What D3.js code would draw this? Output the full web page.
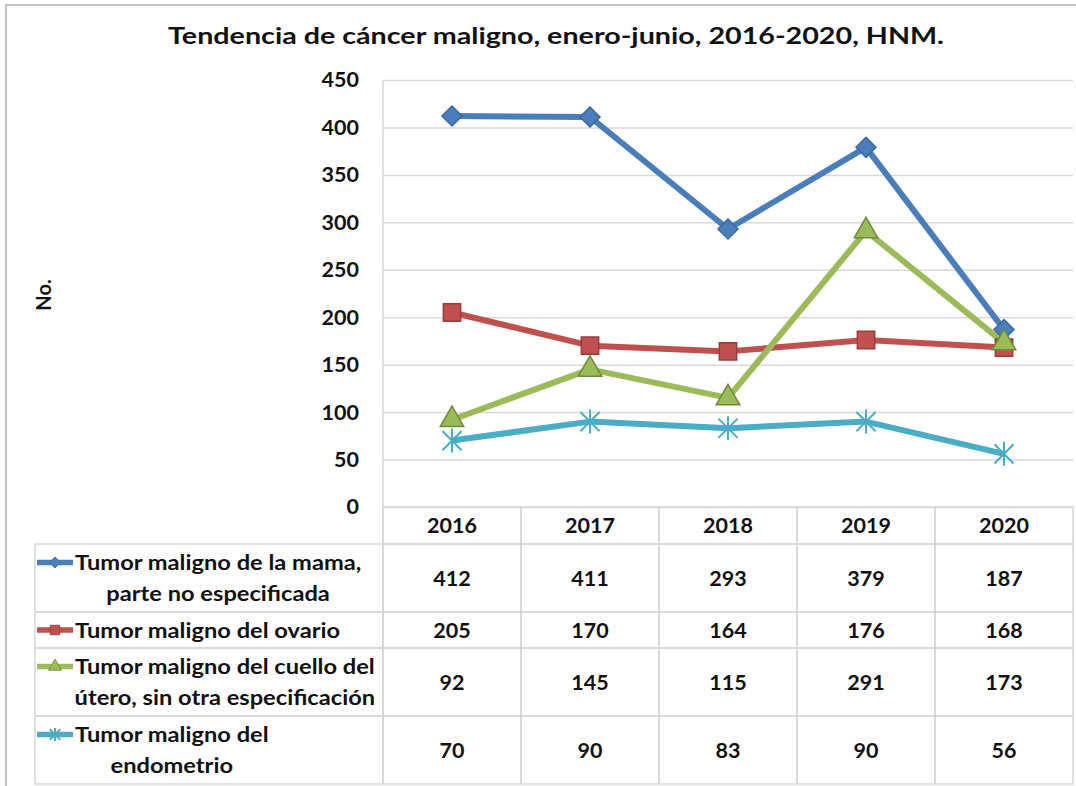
<!DOCTYPE html>
<meta charset="utf-8">
<style>
body { margin: 0; background: #fff; }
svg text { font-family: Lato, "Open Sans", sans-serif; font-weight: bold; fill: #111; }
.grid line { stroke: #d9d9d9; stroke-width: 1.5px; }
.grid path { display: none; }
.cell { fill: none; stroke: #d6d6d6; stroke-width: 1.5px; }
</style>
<svg width="1076" height="786"></svg>
<script src="https://d3js.org/d3.v7.min.js"></script>
<script>

var years = ["2016", "2017", "2018", "2019", "2020"];
var yTicks = [0, 50, 100, 150, 200, 250, 300, 350, 400, 450];

var mama = [412, 411, 293, 379, 187];
var ovario = [205, 170, 164, 176, 168];
var cuello = [92, 145, 115, 291, 173];
var endometrio = [70, 90, 83, 90, 56];

var seriesNames = [
  ["Tumor maligno de la mama,", "parte no especificada"],
  ["Tumor maligno del ovario"],
  ["Tumor maligno del cuello del", "útero, sin otra especificación"],
  ["Tumor maligno del", "endometrio"]
];

var series = [
  { name: seriesNames[0], values: mama, color: "#4a7ebb", dark: "#3a68a0", marker: "diamond" },
  { name: seriesNames[1], values: ovario, color: "#c0504d", dark: "#963c3a", marker: "square" },
  { name: seriesNames[2], values: cuello, color: "#9bbb59", dark: "#6f8a3a", marker: "triangle" },
  { name: seriesNames[3], values: endometrio, color: "#4bacc6", dark: "#4bacc6", marker: "star" }
];

var svg = d3.select("svg");

// the source font is wider than Lato, so stretch text a little
function stretch(sel, k) {
  sel.each(function() {
    var w = this.getComputedTextLength();
    d3.select(this).attr("textLength", w * k).attr("lengthAdjust", "spacingAndGlyphs");
  });
}

// outer frame
svg.append("rect")
    .attr("x", 6).attr("y", 5)
    .attr("width", 1090).attr("height", 800)
    .attr("fill", "none").attr("stroke", "#c4c4c4").attr("stroke-width", 2);

var x = d3.scaleBand().domain(years).range([383, 1073]);
var y = d3.scaleLinear().domain([0, 450]).range([507, 80]);

// title
svg.append("text")
    .attr("x", 556).attr("y", 44)
    .attr("text-anchor", "middle")
    .attr("font-size", 23.5)
    .text("Tendencia de cáncer maligno, enero-junio, 2016-2020, HNM.")
    .call(stretch, 1.22);

// y axis label
svg.append("text")
    .attr("transform", "translate(51,295) rotate(-90)")
    .attr("text-anchor", "middle")
    .attr("font-size", 20)
    .text("No.");

// gridlines + tick labels
var yAxis = svg.append("g")
    .attr("class", "grid")
    .attr("transform", "translate(383,0)")
    .call(d3.axisLeft(y).tickValues(yTicks).tickSize(-690).tickPadding(24));
yAxis.selectAll("text")
    .attr("font-size", 21.5)
    .style("font-family", "Lato, sans-serif")
    .style("font-weight", "bold")
    .attr("fill", "#111");

// plot left edge
svg.append("line")
    .attr("x1", 383).attr("x2", 383)
    .attr("y1", 80).attr("y2", 783)
    .attr("stroke", "#d6d6d6").attr("stroke-width", 1.5);

// data table
var headerTop = 507, headerH = 37;
var rowH = function(s) { return s.name.length > 1 ? 68 : 36; };
var tops = [];
var acc = headerTop + headerH;
series.forEach(function(s) { tops.push(acc); acc += rowH(s); });

// header row
years.forEach(function(yr) {
  svg.append("rect").attr("class", "cell")
      .attr("x", x(yr)).attr("y", headerTop)
      .attr("width", x.bandwidth()).attr("height", headerH);
  svg.append("text")
      .attr("x", x(yr) + x.bandwidth() / 2)
      .attr("y", headerTop + headerH / 2)
      .attr("dy", "0.36em")
      .attr("text-anchor", "middle")
      .attr("font-size", 21.5)
      .text(yr);
});

var markerSym = {
  diamond: d3.symbol().type(d3.symbolSquare).size(200),
  square: d3.symbol().type(d3.symbolSquare).size(300),
  triangle: d3.symbol().type(d3.symbolTriangle).size(240)
};
function starPath(r) {
  var a = r * 0.8;
  return "M" + (-a) + "," + (-a) + "L" + a + "," + a +
         "M" + (-a) + "," + a + "L" + a + "," + (-a) +
         "M0," + (-r) + "L0," + r;
}
function drawMarker(g, s, cx, cy, scale) {
  if (s.marker === "star") {
    g.append("path")
        .attr("transform", "translate(" + cx + "," + cy + ")")
        .attr("d", starPath(12 * scale))
        .attr("stroke", s.color).attr("stroke-width", 2).attr("fill", "none");
  } else {
    var rot = s.marker === "diamond" ? " rotate(45)" : "";
    g.append("path")
        .attr("transform", "translate(" + cx + "," + cy + ") scale(" + scale + ")" + rot)
        .attr("d", markerSym[s.marker]())
        .attr("fill", s.color)
        .attr("stroke", s.dark).attr("stroke-width", 1.5);
  }
}

series.forEach(function(s, i) {
  var top = tops[i], h = rowH(s);
  svg.append("rect").attr("class", "cell")
      .attr("x", 35).attr("y", top)
      .attr("width", 383 - 35).attr("height", h);
  years.forEach(function(yr, j) {
    svg.append("rect").attr("class", "cell")
        .attr("x", x(yr)).attr("y", top)
        .attr("width", x.bandwidth()).attr("height", h);
    svg.append("text")
        .attr("x", x(yr) + x.bandwidth() / 2)
        .attr("y", top + h / 2)
        .attr("dy", "0.36em")
        .attr("text-anchor", "middle")
        .attr("font-size", 21.5)
        .text(s.values[j]);
  });

  // legend label
  var lineY = s.name.length > 1 ? top + h / 2 - 15.5 : top + h / 2;
  var g = svg.append("g");
  g.append("line")
      .attr("x1", 37).attr("x2", 73)
      .attr("y1", lineY).attr("y2", lineY)
      .attr("stroke", s.color).attr("stroke-width", 5.5);
  drawMarker(g, s, 55, lineY, 0.55);
  var t1 = g.append("text")
      .attr("x", 75).attr("y", lineY).attr("dy", "0.36em")
      .attr("font-size", 21.5)
      .text(s.name[0])
      .call(stretch, 1.1);
  if (s.name.length > 1) {
    var w = +t1.attr("textLength");
    g.append("text")
        .attr("x", 75 + w / 2).attr("y", lineY + 31).attr("dy", "0.36em")
        .attr("text-anchor", "middle")
        .attr("font-size", 21.5)
        .text(s.name[1])
        .call(stretch, 1.1);
  }
});

// lines
var line = d3.line()
    .x(function(d, i) { return x(years[i]) + x.bandwidth() / 2; })
    .y(function(d) { return y(d); });

series.forEach(function(s) {
  svg.append("path")
      .datum(s.values)
      .attr("fill", "none")
      .attr("stroke", s.color)
      .attr("stroke-width", 6)
      .attr("stroke-linejoin", "round")
      .attr("d", line);
});
series.forEach(function(s) {
  var g = svg.append("g");
  s.values.forEach(function(v, i) {
    drawMarker(g, s, x(years[i]) + x.bandwidth() / 2, y(v), 1);
  });
});

</script>
